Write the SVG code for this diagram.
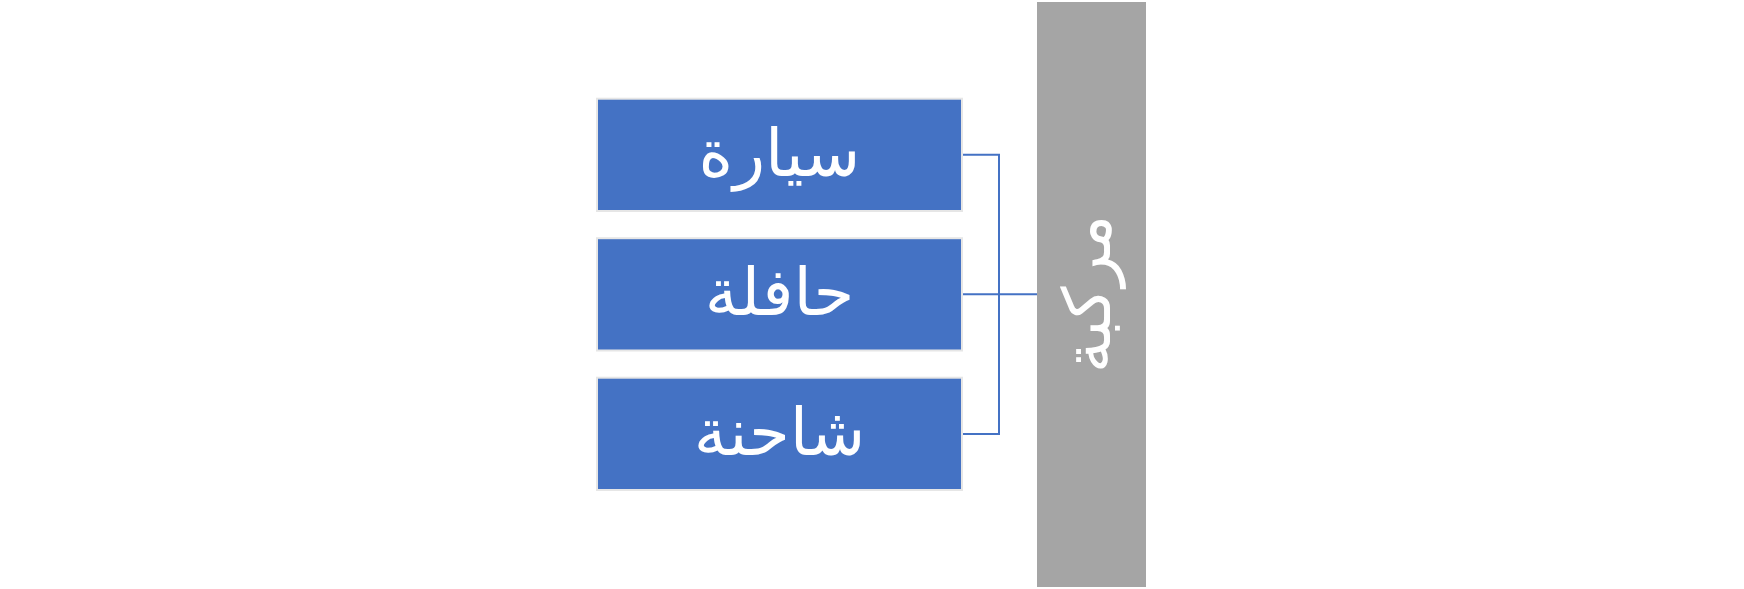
<svg xmlns="http://www.w3.org/2000/svg" width="1744" height="589" viewBox="0 0 1744 589">
<style>
.box{fill:#4472c4;stroke:#e6e6e6;stroke-width:2}
.lbl{font-family:"DejaVu Sans","Noto Sans",sans-serif;font-size:66px;fill:#ffffff;text-anchor:middle;direction:rtl}
.con{fill:none;stroke:#4472c4;stroke-width:2}
</style>
<rect width="1744" height="589" fill="#ffffff"/>
<g id="root">
<rect x="1037" y="2" width="109" height="585" fill="#a5a5a5"/>
<text class="lbl" transform="translate(1092,294) rotate(-90)" y="18">مركبة</text>
</g>
<g id="car">
<rect class="box" x="597" y="98.7" width="365" height="112.3"/>
<text class="lbl" x="779.5" y="176">سيارة</text>
</g>
<g id="bus">
<rect class="box" x="597" y="238.2" width="365" height="112.3"/>
<text class="lbl" x="779.5" y="315">حافلة</text>
</g>
<g id="truck">
<rect class="box" x="597" y="377.7" width="365" height="112.3"/>
<text class="lbl" x="779.5" y="455">شاحنة</text>
</g>
<g id="connectors">
<path class="con" d="M963,154.7 H999 V434 H963"/>
<path class="con" d="M963,294.3 H1037"/>
</g>
</svg>
